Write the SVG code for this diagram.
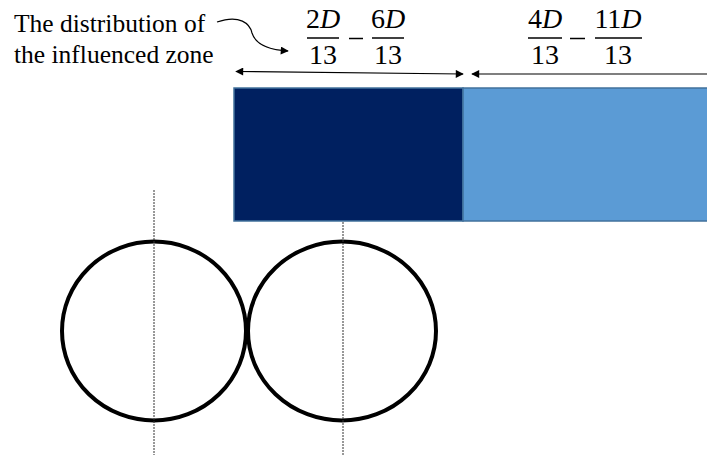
<svg xmlns="http://www.w3.org/2000/svg" width="707" height="455" viewBox="0 0 707 455">
<style>
.lbl{font-family:"Liberation Serif","Times New Roman",serif;font-size:25.5px;fill:#000}
.m{font-family:"Liberation Serif","Times New Roman",serif;font-size:28px;fill:#000;text-anchor:middle}
.mi{font-style:italic}
.bar{stroke:#000;stroke-width:1.5}
.dash{stroke:#333;stroke-width:1;stroke-dasharray:2 1;fill:none}
.circ{fill:none;stroke:#000;stroke-width:4}
.arr{stroke:#000;stroke-width:1.2;fill:none}
</style>
<defs>
<marker id="ah" viewBox="0 0 10 10" refX="9" refY="5" markerWidth="9" markerHeight="8" markerUnits="userSpaceOnUse" orient="auto-start-reverse">
<path d="M0,0 L10,5 L0,10 z" fill="#000"/>
</marker>
</defs>
<rect width="707" height="455" fill="#fff"/>
<g id="label">
<text class="lbl" x="14" y="32">The distribution of</text>
<text class="lbl" x="14" y="63">the influenced zone</text>
</g>
<g id="formula1">
<text class="m" x="323" y="28">2<tspan class="mi">D</tspan></text>
<line class="bar" x1="307" y1="38" x2="339" y2="38"/>
<text class="m" x="323" y="64">13</text>
<line class="bar" x1="349" y1="38.5" x2="363" y2="38.5"/>
<text class="m" x="388" y="28">6<tspan class="mi">D</tspan></text>
<line class="bar" x1="372" y1="38" x2="404" y2="38"/>
<text class="m" x="388" y="64">13</text>
</g>
<g id="formula2">
<text class="m" x="545" y="28">4<tspan class="mi">D</tspan></text>
<line class="bar" x1="528" y1="38" x2="562" y2="38"/>
<text class="m" x="545" y="64">13</text>
<line class="bar" x1="570" y1="38.5" x2="585" y2="38.5"/>
<text class="m" x="618" y="28">11<tspan class="mi">D</tspan></text>
<line class="bar" x1="595" y1="38" x2="642" y2="38"/>
<text class="m" x="618" y="64">13</text>
</g>
<g id="zone-dark">
<rect x="234" y="88" width="229" height="133" fill="#002060" stroke="#41719C" stroke-width="1.5"/>
</g>
<g id="zone-light">
<rect x="463" y="88" width="250" height="133" fill="#5B9BD5" stroke="#41719C" stroke-width="1.5"/>
</g>
<g id="circle1">
<ellipse class="circ" cx="154" cy="331" rx="92" ry="89.5"/>
</g>
<g id="circle2">
<ellipse class="circ" cx="342" cy="331" rx="94" ry="89.5"/>
</g>
<g id="connectors">
<path class="arr" d="M217,22 C240,14 250,24 252,33 C256,46 272,50 288,51" marker-end="url(#ah)"/>
<line class="arr" x1="236" y1="71.5" x2="463" y2="74" marker-start="url(#ah)" marker-end="url(#ah)"/>
<line class="arr" x1="707" y1="74" x2="472" y2="74" marker-end="url(#ah)"/>
<line class="dash" x1="154" y1="190" x2="154" y2="455"/>
<line class="dash" x1="343" y1="222" x2="343" y2="455"/>
</g>
</svg>
